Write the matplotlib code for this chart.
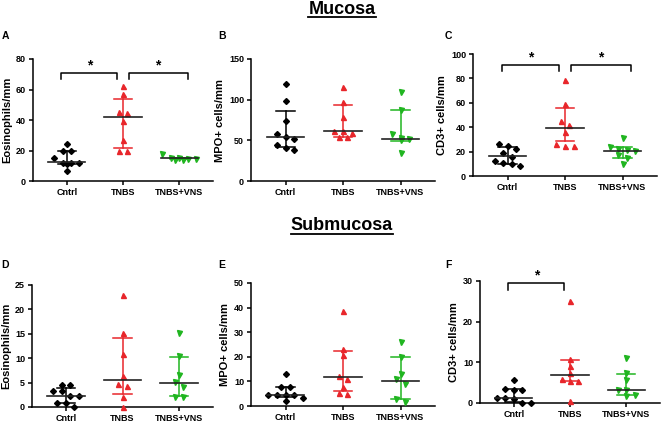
import numpy as np
import matplotlib
matplotlib.use("Agg")
import matplotlib.pyplot as plt
from matplotlib.lines import Line2D

plt.rcParams['font.family'] = ['Liberation Sans', 'DejaVu Sans']
plt.rcParams['font.weight'] = 'bold'

groups = ["Cntrl", "TNBS", "TNBS+VNS"]

# A - mucosa eosinophils
A_cntrl = [24.5, 20, 19.5, 15, 12, 12, 11.5, 11, 6.5]
A_tnbs = [62, 57, 45, 44.5, 39.5, 27, 19.5, 19.5]
A_vns = [18, 15, 15, 14.5, 14.5, 14, 14]
A_med = [12.2, 41.9, 14.8]
A_low = [11.0, 21.9, 14.2]
A_high = [19.7, 53.7, 15.2]

# B - mucosa MPO+
B_cntrl = [119.5, 98.5, 74, 57.5, 54.5, 52, 44.5, 41, 38]
B_tnbs = [115.5, 97.5, 79, 62, 62, 59, 54, 54]
B_vns = [110, 87, 57.5, 53, 51.5, 50, 35]
B_med = [54.7, 62, 52.2]
B_low = [42.3, 54, 49]
B_high = [85.9, 94, 86.7]

# C - mucosa CD3+
C_cntrl = [26.5, 24.5, 22, 18.5, 15.5, 12, 11, 9.5, 8.5]
C_tnbs = [79, 59, 45, 42, 36, 26, 25, 25]
C_vns = [31, 24, 22, 21, 20.5, 17.5, 15, 9.5]
C_med = [16.5, 39, 20.3]
C_low = [10.2, 28.8, 15.1]
C_high = [23.6, 55.5, 23.4]

# D - submucosa eosinophils
D_cntrl = [4.5, 4.5, 3.3, 3.2, 2.2, 2.2, 0.9, 0.8, 0]
D_tnbs = [22.9, 15.1, 10.8, 6.3, 4.7, 4.3, 2.1, 0]
D_vns = [15.1, 10.4, 6.5, 5.1, 4.1, 2.1, 2.0]
D_med = [2.26, 5.5, 4.9]
D_low = [0.9, 2.7, 2.2]
D_high = [3.8, 14.2, 10.3]

# E - submucosa MPO+
E_cntrl = [13, 7.8, 7.8, 4.5, 4.5, 4.5, 4.3, 3.2, 2]
E_tnbs = [38.7, 23, 20.6, 12, 11, 7.8, 5.3, 4.8]
E_vns = [26.2, 20, 13.2, 10.8, 8.9, 3, 1.6]
E_med = [4.4, 11.6, 10.2]
E_low = [3.8, 6.0, 3.0]
E_high = [7.8, 22.3, 19.8]

# F - submucosa CD3+
F_cntrl = [5.6, 3.5, 3.3, 3.3, 1.2, 1.2, 1.0, 0, 0]
F_tnbs = [25, 10.8, 9.2, 7.5, 5.9, 5.3, 5.3, 0.6]
F_vns = [11, 7.4, 5.7, 3.3, 3.2, 2.0, 1.6]
F_med = [1.2, 6.8, 3.1]
F_low = [0.2, 5.3, 2.0]
F_high = [3.5, 10.5, 7.2]

colors = ["black", "#e8262b", "#20b520"]
markers = ["D", "^", "v"]

W, H = 666, 422
fig = plt.figure(figsize=(W / 100, H / 100), dpi=100)


def add_ax(x0, x1, ytop, ybot):
    return fig.add_axes([x0 / W, 1 - ybot / H, (x1 - x0) / W, (ybot - ytop) / H])


def spread(vals, ystep, xstep, maxrow=5):
    # simple row layout: points with close values sit side by side
    order = np.argsort(vals)[::-1]
    xs = np.zeros(len(vals))
    rows = []
    for i in order:
        if rows and len(rows[-1]) < maxrow and abs(vals[rows[-1][0]] - vals[i]) < ystep:
            rows[-1].append(i)
        else:
            rows.append([i])
    for row in rows:
        n = len(row)
        for k, i in enumerate(row):
            xs[i] = (k - (n - 1) / 2) * xstep
    return xs


def panel(ax, data, med, low, high, ymax, yticks, ylabel, brackets=()):
    ax.set_xlim(-0.6, 2.6)
    ax.set_ylim(0, ymax)
    ystep = ymax / 122 * 5.5
    for i, vals in enumerate(data):
        xs = i + spread(np.array(vals, dtype=float), ystep, 0.15)
        ms = 3.0 if markers[i] == "D" else 3.6
        ax.plot(xs, vals, linestyle="none", marker=markers[i], color=colors[i],
                markersize=ms, clip_on=False, zorder=3)
        ax.plot([i, i], [low[i], high[i]], color=colors[i], lw=1.1, zorder=2)
        for v in (low[i], high[i]):
            ax.plot([i - 0.16, i + 0.16], [v, v], color=colors[i], lw=1.1, zorder=2)
        ax.plot([i - 0.33, i + 0.33], [med[i], med[i]], color="#222222", lw=1.2, zorder=4)
    for (a, b, yb) in brackets:
        leg = ymax * 0.05
        ax.plot([a, a, b, b], [yb - leg, yb, yb, yb - leg], color="black", lw=1.1, clip_on=False)
        ax.text((a + b) / 2, yb + ymax * 0.005, "*", ha="center", va="bottom",
                fontsize=10, fontweight="bold")
    ax.set_xticks(range(3))
    ax.set_xticklabels(groups, fontsize=6.5, fontweight="bold")
    ax.set_yticks(yticks)
    ax.set_yticklabels([str(t) for t in yticks], fontsize=6.5, fontweight="bold")
    ax.set_ylabel(ylabel, fontsize=8, fontweight="bold", labelpad=3)
    for s in ("top", "right"):
        ax.spines[s].set_visible(False)
    for s in ("left", "bottom"):
        ax.spines[s].set_linewidth(1.1)
    ax.tick_params(length=3, width=1.1, pad=2)


axA = add_ax(33, 213, 59, 181)
axB = add_ax(251, 435, 59, 181)
axC = add_ax(473, 657, 54, 176)
axD = add_ax(32, 213, 285, 407)
axE = add_ax(251, 435, 283, 406)
axF = add_ax(480, 660, 281, 403)

panel(axA, [A_cntrl, A_tnbs, A_vns], A_med, A_low, A_high, 80, [0, 20, 40, 60, 80],
      "Eosinophils/mm", [(-0.1, 0.9, 71), (1.1, 2.15, 71)])
panel(axB, [B_cntrl, B_tnbs, B_vns], B_med, B_low, B_high, 150, [0, 50, 100, 150],
      "MPO+ cells/mm")
panel(axC, [C_cntrl, C_tnbs, C_vns], C_med, C_low, C_high, 100, [0, 20, 40, 60, 80, 100],
      "CD3+ cells/mm", [(-0.1, 0.9, 91), (1.1, 2.15, 91)])
panel(axD, [D_cntrl, D_tnbs, D_vns], D_med, D_low, D_high, 25, [0, 5, 10, 15, 20, 25],
      "Eosinophils/mm")
panel(axE, [E_cntrl, E_tnbs, E_vns], E_med, E_low, E_high, 50, [0, 10, 20, 30, 40, 50],
      "MPO+ cells/mm")
panel(axF, [F_cntrl, F_tnbs, F_vns], F_med, F_low, F_high, 30, [0, 10, 20, 30],
      "CD3+ cells/mm", [(-0.1, 0.9, 29.4)])

# panel letters
for letter, x, y in [("A", 5, 36), ("B", 222, 36), ("C", 448, 36),
                     ("D", 5, 265), ("E", 222, 265), ("F", 448, 265)]:
    fig.text(x / W, 1 - y / H, letter, fontsize=7.5, fontweight="bold", ha="center", va="center")

# underlined section titles
renderer = fig.canvas.get_renderer()
for title, y in [("Mucosa", 9), ("Submucosa", 226)]:
    t = fig.text(342 / W, 1 - y / H, title, fontsize=13, fontweight="bold",
                 ha="center", va="center")
    bb = t.get_window_extent(renderer).transformed(fig.transFigure.inverted())
    yl = bb.y0 + 0.2 / H
    fig.add_artist(Line2D([bb.x0, bb.x1], [yl, yl], transform=fig.transFigure,
                          color="black", lw=1.3))

fig.savefig("out.png", dpi=100)
